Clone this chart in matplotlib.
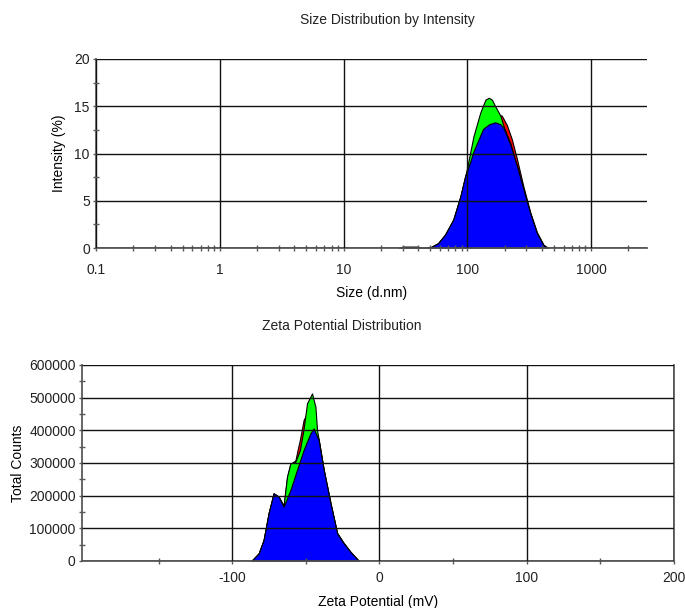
import matplotlib
matplotlib.use('Agg')
import matplotlib.pyplot as plt
from matplotlib.ticker import MultipleLocator, LogLocator, NullFormatter, FixedLocator

plt.rcParams['font.family'] = ['Liberation Sans', 'DejaVu Sans']
plt.rcParams['font.size'] = 10
plt.rcParams['text.color'] = '#222222'
plt.rcParams['axes.unicode_minus'] = False

# ---- size distribution (d.nm -> intensity %) ----
size_blue = [45, 50, 58, 66, 77, 88, 96, 106, 112, 134, 150, 168, 185, 196,
             222, 252, 284, 322, 364, 412, 445]
int_blue = [0, 0.05, 0.5, 1.4, 3.0, 5.5, 7.6, 9.2, 10.2, 12.6, 13.1, 13.3, 13.1,
            12.7, 11.0, 8.65, 6.2, 3.7, 1.6, 0.3, 0]

size_green = [45, 50, 58, 66, 77, 88, 99, 112, 127, 140, 149, 158, 168, 185,
              196, 222, 252, 284, 322, 364, 412, 445]
int_green = [0, 0.05, 0.5, 1.4, 3.0, 5.5, 8.3, 11.8, 14.3, 15.7, 15.9, 15.7,
             15.0, 14.0, 12.9, 11.1, 8.7, 6.2, 3.7, 1.6, 0.3, 0]

size_red = [28, 30, 40, 42, 45, 50, 58, 66, 77, 88, 96, 112, 134, 150, 168,
            180, 190, 209, 229, 252, 268, 284, 322, 364, 412, 450]
int_red = [0, 0.15, 0.15, 0, 0, 0.05, 0.5, 1.4, 3.0, 5.4, 7.5, 10.0, 12.6, 13.3,
           13.9, 14.1, 14.0, 13.0, 11.5, 9.4, 7.9, 6.5, 3.8, 1.7, 0.35, 0]

# ---- zeta potential (mV -> total counts) ----
zeta_blue = [-87, -82, -78.7, -75.3, -71.9, -68.5, -65.1, -60.5, -56, -51.5,
             -46.9, -44.7, -41.3, -37.9, -33.3, -28.8, -24.3, -19.7, -14]
cnt_blue = [0, 23500, 64000, 146000, 207000, 197000, 166000, 217000, 279000,
            340000, 391000, 406000, 370000, 279000, 177000, 85000, 54000,
            28000, 0]

zeta_green = [-87, -82, -78.7, -75.3, -71.9, -68.5, -65.1, -62.8, -60.5, -57.1,
              -54, -51.5, -49.2, -45.8, -43.5, -42.4, -41.3, -37.9, -33.3,
              -28.8, -24.3, -19.7, -14]
cnt_green = [0, 23500, 64000, 146000, 207000, 197000, 170000, 258000, 299000,
             304000, 340000, 405000, 483000, 513000, 472000, 401000, 372000,
             280000, 178000, 86000, 55000, 28000, 0]

zeta_red = [-87, -82, -78.7, -75.3, -71.9, -68.5, -65.1, -62.8, -60.5, -57.1,
            -55.5, -54, -51.5, -50, -47, -44, -41.3, -37.9, -33.3, -28.8,
            -24.3, -19.7, -14]
cnt_red = [0, 23500, 64000, 146000, 207000, 197000, 168000, 255000, 297000,
           308000, 342000, 372000, 432000, 445000, 430000, 410000, 372000,
           280000, 178000, 86000, 55000, 28000, 0]

size_ticks = [0.1, 1, 10, 100, 1000]
size_ticklabels = ['0.1', '1', '10', '100', '1000']
zeta_ticks = [-100, 0, 100, 200]

spine_col = '#5a5a5a'
grid_col = '#111111'

fig = plt.figure(figsize=(6.85, 6.08), dpi=100)
W, H = 685, 608


def px_axes(left, top, right, bottom):
    return fig.add_axes([left / W, 1 - bottom / H, (right - left) / W, (bottom - top) / H])


def style(ax):
    for s in ('left', 'bottom', 'right'):
        ax.spines[s].set_color(spine_col)
        ax.spines[s].set_linewidth(1.3)
    ax.spines['top'].set_visible(False)
    ax.tick_params(which='major', direction='out', length=2.5, width=1,
                   color=spine_col, labelcolor='#222222')
    ax.tick_params(which='minor', direction='inout', length=4, width=1,
                   color=spine_col)
    ax.grid(True, which='major', color=grid_col, linewidth=1.0)
    ax.set_axisbelow(False)


# top: size distribution
ax1 = px_axes(96, 59, 647, 248)
ax1.set_xscale('log')
for sx, sy, col in [(size_red, int_red, '#ff0000'),
                    (size_green, int_green, '#00ff00'),
                    (size_blue, int_blue, '#0000ff')]:
    ax1.fill_between(sx, sy, 0, facecolor=col, edgecolor='black',
                     linewidth=0.8, zorder=2)
ax1.set_xlim(0.1, 2830)
ax1.set_ylim(0, 20)
ax1.xaxis.set_major_locator(FixedLocator(size_ticks))
ax1.set_xticklabels(size_ticklabels)
ax1.xaxis.set_minor_locator(LogLocator(base=10, subs=range(2, 10)))
ax1.xaxis.set_minor_formatter(NullFormatter())
ax1.yaxis.set_major_locator(MultipleLocator(5))
ax1.yaxis.set_minor_locator(MultipleLocator(2.5))
style(ax1)
ax1.spines['right'].set_visible(False)
ax1.tick_params(axis='x', which='major', pad=8)
ax1.tick_params(axis='y', which='major', pad=2)
ax1.set_xlabel('Size (d.nm)', labelpad=7)
ax1.set_ylabel('Intensity (%)', labelpad=6)
fig.text(387.5 / W, 1 - 20 / H, 'Size Distribution by Intensity',
         ha='center', va='center')

# bottom: zeta potential
ax2 = px_axes(82, 365, 674, 561)
for zx, zy, col in [(zeta_red, cnt_red, '#ff0000'),
                    (zeta_green, cnt_green, '#00ff00'),
                    (zeta_blue, cnt_blue, '#0000ff')]:
    ax2.fill_between(zx, zy, 0, facecolor=col, edgecolor='black',
                     linewidth=0.8, zorder=2)
ax2.set_xlim(-202, 200)
ax2.set_ylim(0, 600000)
ax2.xaxis.set_major_locator(FixedLocator(zeta_ticks))
ax2.xaxis.set_minor_locator(FixedLocator([-150, -50, 50, 150]))
ax2.yaxis.set_major_locator(MultipleLocator(100000))
ax2.yaxis.set_minor_locator(MultipleLocator(50000))
style(ax2)
ax2.tick_params(axis='x', which='major', pad=5)
ax2.tick_params(axis='y', which='major', pad=2)
ax2.set_xlabel('Zeta Potential (mV)', labelpad=7)
ax2.set_ylabel('Total Counts', labelpad=3)
fig.text(341.7 / W, 1 - 326 / H, 'Zeta Potential Distribution',
         ha='center', va='center')

fig.savefig('out.png', dpi=100, facecolor='white')
